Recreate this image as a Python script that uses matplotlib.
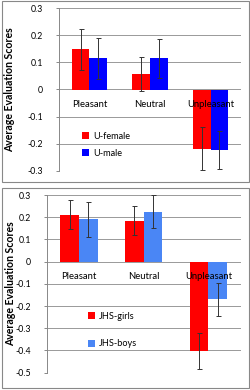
import numpy as np
import matplotlib
matplotlib.use('Agg')
import matplotlib.pyplot as plt
from matplotlib.patches import Rectangle

plt.rcParams['font.family'] = ['Lato', 'DejaVu Sans']

categories = ['Pleasant', 'Neutral', 'Unpleasant']

# top panel: university students
u_female = [0.148, 0.056, -0.218]
u_female_err = [0.077, 0.063, 0.080]
u_male = [0.115, 0.115, -0.223]
u_male_err = [0.077, 0.073, 0.070]

# bottom panel: junior high school
jhs_girls = [0.212, 0.185, -0.402]
jhs_girls_err = [0.065, 0.065, 0.082]
jhs_boys = [0.190, 0.225, -0.170]
jhs_boys_err = [0.078, 0.075, 0.075]

W, H = 251, 390
fig = plt.figure(figsize=(W / 100, H / 100), dpi=100)


def px_axes(x0, y0, x1, y1):
    return fig.add_axes([x0 / W, 1 - y1 / H, (x1 - x0) / W, (y1 - y0) / H])


def panel(ax, s1, e1, s2, e2, names, colours, ylim, yticks, label_y, leg_anchor, leg_space):
    x = np.arange(len(categories)) + 0.5
    bw = 0.29
    ax.bar(x - bw / 2, s1, bw, color=colours[0], label=names[0], zorder=2)
    ax.bar(x + bw / 2, s2, bw, color=colours[1], label=names[1], zorder=2)
    ax.errorbar(x - bw / 2, s1, yerr=e1, fmt='none', ecolor='#333333',
                elinewidth=0.7, capsize=1.8, capthick=0.7, zorder=3)
    ax.errorbar(x + bw / 2, s2, yerr=e2, fmt='none', ecolor='#333333',
                elinewidth=0.7, capsize=1.8, capthick=0.7, zorder=3)
    ax.set_xlim(0, 3)
    ax.set_ylim(*ylim)
    ax.set_yticks(yticks)
    ax.set_yticklabels(['0' if abs(t) < 1e-9 else f'{t:.1f}' for t in yticks])
    ax.set_xticks([])
    ax.yaxis.grid(True, color='#999999', linewidth=0.7, zorder=0)
    ax.set_axisbelow(True)
    for s in ['top', 'right', 'bottom']:
        ax.spines[s].set_visible(False)
    ax.spines['left'].set_color('#888888')
    ax.spines['left'].set_linewidth(0.7)
    ax.tick_params(axis='y', length=2.5, width=0.7, color='#888888',
                   labelsize=6.3, pad=9)
    for xi, c in zip(x, categories):
        ax.text(xi, label_y, c, ha='center', va='center', fontsize=6.8, zorder=4)
    ax.set_ylabel('Average Evaluation Scores', fontsize=7.6, fontweight='bold')
    ax.legend(loc='center left', bbox_to_anchor=leg_anchor, frameon=False,
              fontsize=6.6, handlelength=0.8, handleheight=0.8,
              handletextpad=0.4, labelspacing=leg_space, borderpad=0)


ax1 = px_axes(59, 8.3, 241, 170.7)
panel(ax1, u_female, u_female_err, u_male, u_male_err,
      ['U-female', 'U-male'], ['#ff0000', '#0000ff'],
      (-0.3, 0.3), np.arange(-0.3, 0.31, 0.1), -0.055, (0.1, 0.16), 0.9)
ax1.yaxis.set_label_coords(-0.24, 0.5)

ax2 = px_axes(46.7, 195, 240.7, 372.7)
panel(ax2, jhs_girls, jhs_girls_err, jhs_boys, jhs_boys_err,
      ['JHS-girls', 'JHS-boys'], ['#ff0000', '#4a86f5'],
      (-0.5, 0.3), np.arange(-0.5, 0.31, 0.1), -0.069, (0.19, 0.24), 2.0)
ax2.yaxis.set_label_coords(-0.16, 0.5)

for (x0, y0, x1, y1) in [(2, 1, 249, 182), (2, 188, 249, 388)]:
    fig.patches.append(Rectangle((x0 / W, 1 - y1 / H), (x1 - x0) / W, (y1 - y0) / H,
                                 transform=fig.transFigure, fill=False,
                                 edgecolor='#888888', linewidth=0.8))

fig.savefig('out.png', dpi=100)
